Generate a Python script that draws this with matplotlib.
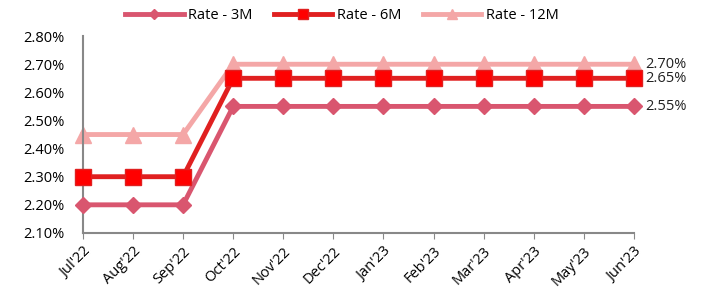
import numpy as np
import matplotlib.pyplot as plt
from matplotlib.ticker import FuncFormatter

plt.rcParams['font.family'] = ['Open Sans', 'DejaVu Sans']

months = ["Jul'22", "Aug'22", "Sep'22", "Oct'22", "Nov'22", "Dec'22",
          "Jan'23", "Feb'23", "Mar'23", "Apr'23", "May'23", "Jun'23"]
rate_3m = [2.20, 2.20, 2.20, 2.55, 2.55, 2.55, 2.55, 2.55, 2.55, 2.55, 2.55, 2.55]
rate_6m = [2.30, 2.30, 2.30, 2.65, 2.65, 2.65, 2.65, 2.65, 2.65, 2.65, 2.65, 2.65]
rate_12m = [2.45, 2.45, 2.45, 2.70, 2.70, 2.70, 2.70, 2.70, 2.70, 2.70, 2.70, 2.70]

fs = 10.5
fig = plt.figure(figsize=(7.09, 2.89), dpi=100)
ax = fig.add_axes([0.117, 0.194, 0.777, 0.681])
x = np.arange(len(months))

ax.plot(x, rate_3m, color='#d9566f', lw=3.5, marker='D', ms=8, label='Rate - 3M', zorder=3)
ax.plot(x, rate_6m, color='#e02020', lw=3.5, marker='s', ms=11, mfc='#ff0000', mec='#e02020',
        label='Rate - 6M', zorder=4)
ax.plot(x, rate_12m, color='#f4a7a7', lw=3.5, marker='^', ms=11, label='Rate - 12M', zorder=2)

# labels at the end
for s in [rate_12m, rate_6m, rate_3m]:
    ax.annotate(f'{s[-1]:.2f}%', (x[-1], s[-1]), xytext=(8, 0), textcoords='offset points',
                va='center', ha='left', fontsize=fs, color='#222222')

ax.set_xlim(0, len(months) - 1)
ax.set_ylim(2.10, 2.80)
ax.set_yticks(np.arange(2.10, 2.81, 0.10))
ax.yaxis.set_major_formatter(FuncFormatter(lambda v, p: f'{v:.2f}%'))
ax.set_xticks(x)
ax.set_xticklabels(months, rotation=45, ha='right', rotation_mode='anchor', fontsize=fs)
ax.tick_params(axis='y', length=0, labelsize=fs, pad=13)
ax.tick_params(axis='x', length=4, color='#888888', pad=4)
for sp in ['top', 'right']:
    ax.spines[sp].set_visible(False)
for sp in ['left', 'bottom']:
    ax.spines[sp].set_color('#888888')
    ax.spines[sp].set_linewidth(1.5)
for l in ax.lines:
    l.set_clip_on(False)

leg = ax.legend(loc='lower center', bbox_to_anchor=(0.47, 1.0), ncol=3, frameon=False,
                fontsize=fs, handlelength=4, markerscale=0.6, columnspacing=1.5, handletextpad=0.3)

fig.savefig('out.png', dpi=100)
